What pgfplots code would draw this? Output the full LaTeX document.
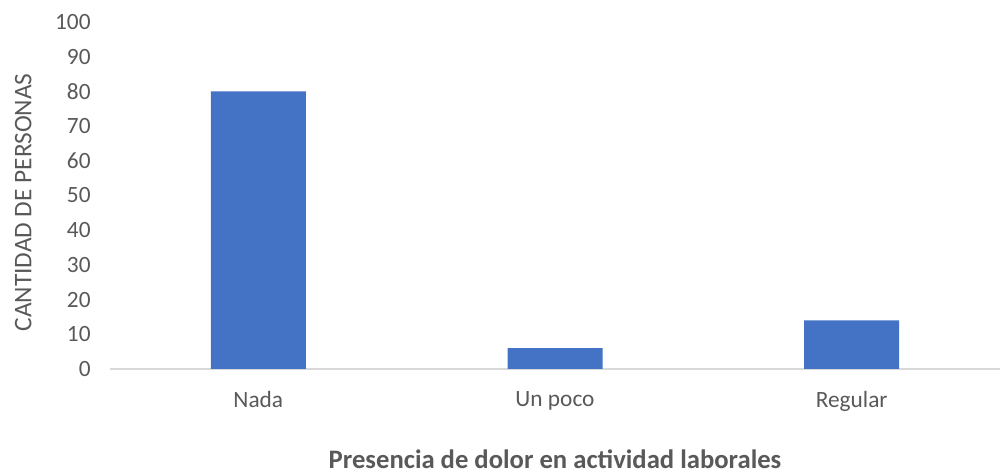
\documentclass[border=0pt]{standalone}
\usepackage{fontspec}
\setmainfont{Carlito}
\usepackage{pgfplots}
\pgfplotsset{compat=1.18}
\definecolor{barblue}{HTML}{4472C4}
\definecolor{txtgray}{HTML}{595959}
\definecolor{axgray}{HTML}{D9D9D9}

\begin{document}
\begin{tikzpicture}
\begin{axis}[
  name=ax,
  scale only axis,
  width=667.5pt, height=260.25pt,
  ybar, bar width=71.25pt,
  xmin=-0.5, xmax=2.5,
  ymin=0, ymax=100,
  ytick={0,10,...,100},
  xtick=data,
  xticklabels={Nada, Un poco, Regular},
  axis x line*=bottom,
  axis y line*=left,
  y axis line style={draw=none},
  x axis line style={draw=axgray, line width=1pt, -},
  major tick length=0pt,
  /pgf/number format/assume math mode=true,
  tick label style={font=\fontsize{17.5}{21}\selectfont, text=txtgray},
  yticklabel style={anchor=east, xshift=-11pt},
  xticklabel style={anchor=north, yshift=-13pt},
  every axis y label/.style={at={(rel axis cs:0,0.48)}, xshift=-65pt, rotate=90, anchor=center,
    font=\fontsize{19}{23}\selectfont, text=txtgray},
  ylabel={CANTIDAD DE PERSONAS},
  every axis x label/.style={at={(rel axis cs:0.5,0)}, yshift=-75pt, anchor=base,
    inner sep=0pt, text depth=0pt,
    font=\fontsize{20}{24}\selectfont\bfseries, text=txtgray},
  xlabel={Presencia de dolor en actividad laborales},
  clip=false,
]
\addplot[fill=barblue, draw=none] coordinates {(0,80) (1,6) (2,14)};
\end{axis}
\path ([xshift=-82.5pt,yshift=-78.75pt]ax.south west) rectangle ++(752.25pt,355.5pt);
\end{tikzpicture}
\end{document}
